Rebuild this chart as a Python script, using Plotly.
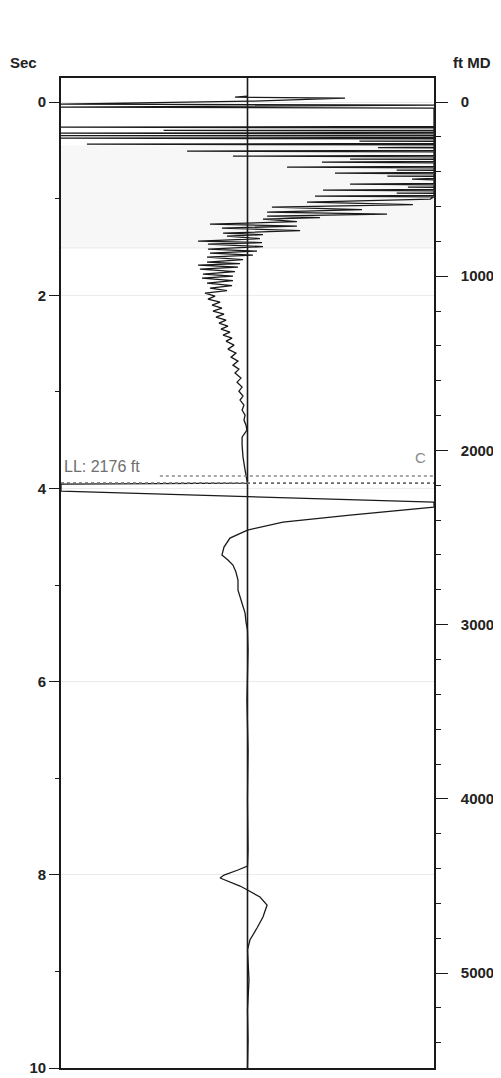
import plotly.graph_objects as go

# ---- data ----
# time in seconds (left axis), normalized trace amplitude (-1 left edge .. 1 right edge)
trace_time = [
    -0.062, -0.052, -0.041, -0.010, 0.021, 0.031, 0.052, 0.062,
    0.252, 0.259, 0.266,
    0.290, 0.293, 0.296,
    0.314, 0.321, 0.328,
    0.345, 0.347, 0.350,
    0.366, 0.373, 0.380,
    0.402, 0.404, 0.407,
    0.428, 0.435, 0.442,
    0.467, 0.470, 0.473,
    0.500, 0.507, 0.514,
    0.552, 0.559, 0.566,
    0.587, 0.590, 0.593,
    0.614, 0.621, 0.628,
    0.666, 0.673, 0.680,
    0.701, 0.704, 0.707,
    0.728, 0.735, 0.742,
    0.763, 0.766, 0.769,
    0.790, 0.797, 0.804,
    0.842, 0.849, 0.856,
    0.877, 0.880, 0.883,
    0.904, 0.911, 0.918,
    0.939, 0.942, 0.945,
    0.966, 0.973, 0.980,
    1.004, 1.035, 1.061, 1.087, 1.113,
    1.139, 1.159, 1.180, 1.196, 1.211, 1.237, 1.263, 1.284, 1.304, 1.330,
    1.356, 1.372, 1.387, 1.413, 1.439, 1.454, 1.470, 1.496, 1.522, 1.542,
    1.563, 1.584, 1.605, 1.630, 1.656, 1.672, 1.687, 1.708, 1.729, 1.755,
    1.781, 1.801, 1.822, 1.848, 1.874, 1.900, 1.925, 1.951, 1.977,
    2.008, 2.039, 2.070, 2.101, 2.133, 2.164, 2.195, 2.226, 2.257, 2.288,
    2.319, 2.350, 2.381, 2.412, 2.443, 2.474, 2.516, 2.557, 2.598, 2.640,
    2.681, 2.723, 2.764, 2.805, 2.857, 2.899, 2.950, 2.992, 3.043, 3.085,
    3.137, 3.188, 3.240, 3.292, 3.344, 3.395, 3.468, 3.551, 3.675, 3.810,
    3.944,
    3.954, 4.027, 4.141, 4.193, 4.275, 4.348, 4.431, 4.513, 4.607, 4.689,
    4.741, 4.793, 4.865, 4.948, 5.052, 5.124, 5.207, 5.290, 5.383, 5.466,
    5.673, 6.190, 6.708, 7.226, 7.743, 7.909,
    7.950, 8.002, 8.033, 8.064, 8.116, 8.157, 8.230, 8.313, 8.437, 8.551,
    8.675, 8.778, 9.089, 9.400, 9.710, 10.0,
]
trace_amp = [
    0.0, -0.067, 0.523, 0.013, -1.0, 1.0, -1.0, 1.0,
    1.0, -1.0, 1.0,
    1.0, -0.45, 1.0,
    1.0, -1.0, 1.0,
    1.0, -1.0, 1.0,
    1.0, -1.0, 1.0,
    1.0, 0.60, 1.0,
    1.0, -0.861, 1.0,
    1.0, 0.70, 1.0,
    1.0, -0.324, 1.0,
    1.0, -0.078, 1.0,
    1.0, 0.55, 1.0,
    1.0, 0.399, 1.0,
    1.0, 0.212, 1.0,
    1.0, 0.80, 1.0,
    1.0, 0.469, 1.0,
    1.0, 0.75, 1.0,
    1.0, 0.882, 1.0,
    1.0, 0.550, 1.0,
    1.0, 0.86, 1.0,
    1.0, 0.405, 1.0,
    1.0, 0.80, 1.0,
    1.0, 0.362, 1.0,
    0.98, 0.319, 0.887, 0.131, 0.614,
    0.105, 0.748, 0.105, 0.389, 0.083, 0.265, -0.201, 0.265, -0.137, 0.282,
    -0.131, 0.083, -0.110, 0.067, -0.265, 0.078, -0.212, 0.083, -0.212, 0.051,
    -0.201, 0.029, -0.217, -0.024, -0.217, -0.040, -0.265, -0.051, -0.255, -0.067,
    -0.239, -0.078, -0.244, -0.078, -0.217, -0.083, -0.201, -0.110, -0.228,
    -0.174, -0.212, -0.147, -0.190, -0.137, -0.185, -0.126, -0.169, -0.115, -0.153,
    -0.105, -0.142, -0.094, -0.131, -0.083, -0.115, -0.072, -0.105, -0.062, -0.088,
    -0.051, -0.078, -0.046, -0.067, -0.035, -0.056, -0.029, -0.046, -0.024, -0.040,
    -0.019, -0.029, -0.013, -0.019, -0.008, -0.003, -0.029, -0.029, -0.024, -0.013,
    0.0,
    -1.0, -1.0, 1.0, 1.0, 0.550, 0.190, 0.0, -0.094, -0.126, -0.137,
    -0.105, -0.078, -0.062, -0.051, -0.051, -0.040, -0.024, -0.013, -0.008, 0.0,
    0.003, -0.003, 0.003, 0.0, 0.003, 0.0,
    -0.051, -0.126, -0.147, -0.105, -0.040, 0.0, 0.067, 0.105, 0.083, 0.051,
    0.013, 0.0, 0.008, 0.0, 0.003, 0.0,
]

sec_ticks = [0, 2, 4, 6, 8, 10]
ft_ticks = [0, 1000, 2000, 3000, 4000, 5000]
sec_range = [10, -0.25]
ft_range = [5545, -138]

marker_label = "LL: 2176 ft"
marker_time = 3.944      # LL line (2176 ft)
marker2_time = 3.872     # upper dotted line
shade_band = [0.45, 1.51]

FONT = "Liberation Sans, Arial, sans-serif"

fig = go.Figure()

fig.add_trace(go.Scatter(
    x=trace_amp, y=trace_time, mode="lines",
    line=dict(color="#1a1a1a", width=1.3),
    showlegend=False, hoverinfo="skip",
))
# invisible trace to activate the right-hand depth axis
fig.add_trace(go.Scatter(
    x=[0], y=[1000], yaxis="y2", mode="markers",
    marker=dict(opacity=0), showlegend=False, hoverinfo="skip",
))

# faint shaded band
fig.add_shape(type="rect", xref="x", yref="y", x0=-1, x1=1,
              y0=shade_band[0], y1=shade_band[1],
              fillcolor="#f7f7f7", line=dict(width=0), layer="below")
fig.add_shape(type="line", xref="x", yref="y", x0=-1, x1=1,
              y0=shade_band[1], y1=shade_band[1],
              line=dict(color="#e8e8e8", width=1), layer="below")

# center line
fig.add_shape(type="line", xref="x", yref="paper", x0=0, x1=0, y0=0, y1=1,
              line=dict(color="#1a1a1a", width=1.6))

# dotted marker lines
fig.add_shape(type="line", xref="x", yref="y", x0=-0.47, x1=1,
              y0=marker2_time, y1=marker2_time,
              line=dict(color="#8a8a8a", width=1.5, dash="dot"))
fig.add_shape(type="line", xref="x", yref="y", x0=-1, x1=1,
              y0=marker_time, y1=marker_time,
              line=dict(color="#6a6a6a", width=1.8, dash="dot"))

fig.add_annotation(x=-1, y=marker2_time, xref="x", yref="y",
                   text=marker_label, showarrow=False,
                   xanchor="left", yanchor="bottom", xshift=1, yshift=-1,
                   font=dict(family=FONT, size=16, color="#6f6f6f"))
fig.add_annotation(x=0.93, y=3.68, xref="x", yref="y",
                   text="C", showarrow=False,
                   font=dict(family=FONT, size=15, color="#8a8a8a"))

fig.add_annotation(x=-0.142, y=1.016, xref="paper", yref="paper",
                   text="Sec", showarrow=False, xanchor="left", yanchor="middle",
                   font=dict(family=FONT, size=15, color="#222", weight="bold"))
fig.add_annotation(x=1.046, y=1.016, xref="paper", yref="paper",
                   text="ft MD", showarrow=False, xanchor="left", yanchor="middle",
                   font=dict(family=FONT, size=15, color="#222", weight="bold"))

# page body adds an 8px offset, so the figure is sized to fit the window
fig.update_layout(
    width=493, height=1070,
    margin=dict(l=53, r=67, t=70, b=10, pad=0, autoexpand=False),
    paper_bgcolor="white", plot_bgcolor="white",
    font=dict(family=FONT, color="#222"),
    xaxis=dict(range=[-1, 1], showgrid=False, zeroline=False, automargin=False,
               showticklabels=False, ticks="",
               showline=True, mirror=True, linecolor="#1a1a1a", linewidth=1.6),
    yaxis=dict(range=sec_range, tickvals=sec_ticks, ticks="outside", automargin=False,
               ticklen=10, tickwidth=1.3, tickcolor="#1a1a1a",
               tickfont=dict(family=FONT, size=15, color="#222", weight="bold"),
               showgrid=True, gridcolor="#ebebeb", gridwidth=1, zeroline=False,
               showline=True, linecolor="#1a1a1a", linewidth=1.6,
               minor=dict(dtick=1, tick0=0, ticks="outside", ticklen=4,
                          tickcolor="#1a1a1a", showgrid=False)),
    yaxis2=dict(range=ft_range, tickvals=ft_ticks, overlaying="y", side="right",
                ticks="outside", ticklen=12, tickwidth=1.3, tickcolor="#1a1a1a",
                automargin=False, ticklabelstandoff=10,
                tickfont=dict(family=FONT, size=15, color="#222", weight="bold"),
                showgrid=False, zeroline=False,
                showline=True, linecolor="#1a1a1a", linewidth=1.6,
                minor=dict(dtick=200, tick0=0, ticks="outside", ticklen=5,
                           tickcolor="#1a1a1a", showgrid=False)),
)

fig.write_html("out.html")
